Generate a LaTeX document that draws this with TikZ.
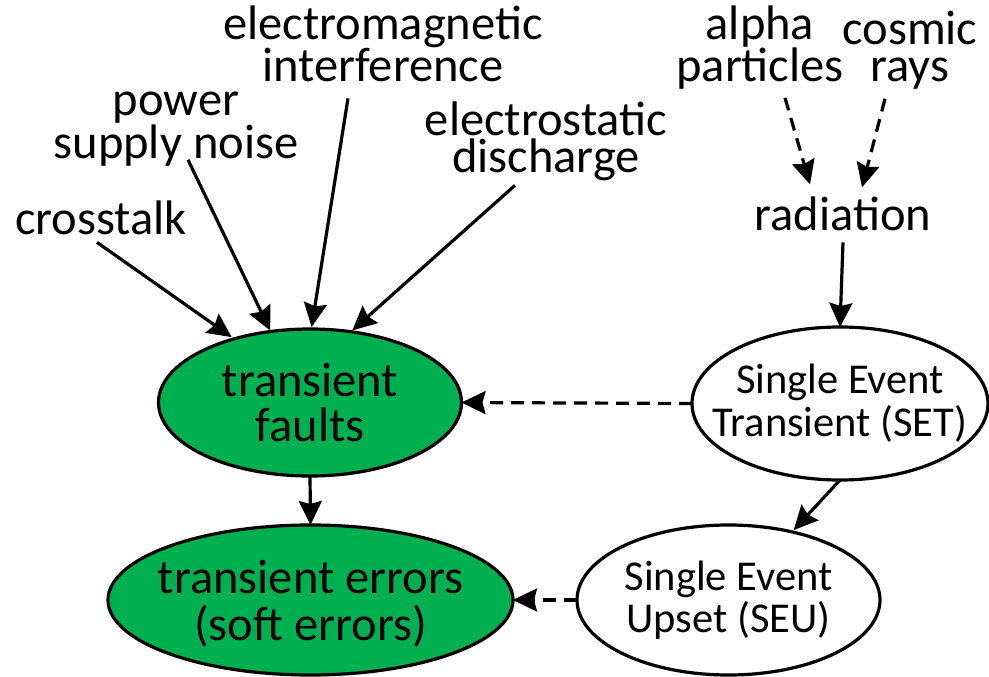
\documentclass[tikz,border=0pt]{standalone}
\usepackage{fontspec}
\setmainfont{Carlito}
\usetikzlibrary{arrows.meta,shapes.geometric}
\definecolor{pgreen}{HTML}{00B050}
\newcommand{\ctext}[2][37pt]{\makebox[0pt]{\begin{tabular}{@{}c@{}}\rule{0pt}{#1}#2\end{tabular}}}
\begin{document}
\begin{tikzpicture}[x=1pt,y=-1pt,
  lbl/.style={inner sep=0pt,outer sep=0pt,align=center,anchor=base,font=\fontsize{48.5}{37}\selectfont},
  ell/.style={ellipse,draw=black,line width=3.2pt,inner sep=0pt,outer sep=0pt},
  big/.style={font=\fontsize{48.5}{40}\selectfont},
  small/.style={font=\fontsize{42.5}{37}\selectfont},
  arr/.style={line width=3.2pt,-{Stealth[length=24pt,width=23pt,inset=3pt]}},
  darr/.style={arr,dash pattern=on 13pt off 8pt}]
\useasboundingbox (0,0) rectangle (989,677);
% outer labels (anchored at last-line baseline)
\node[lbl] (emi) at (383,82) {electromagnetic\\interference};
\node[lbl] (psn) at (176,158) {power\\supply noise};
\node[lbl] (xtalk) at (101,234) {crosstalk};
\node[lbl] (esd) at (546,172) {electrostatic\\discharge};
\node[lbl] (alpha) at (760,82) {alpha\\particles};
\node[lbl] (cosmic) at (910,82) {cosmic\\rays};
\node[lbl] (rad) at (843,230) {radiation};
% ellipses
\node[ell,big,fill=pgreen,minimum width=303pt,minimum height=147pt] (tf) at (310,402.5) {\ctext[45pt]{transient\\faults}};
\node[ell,big,fill=pgreen,minimum width=405pt,minimum height=150pt] (te) at (310.5,600) {\ctext[46pt]{transient errors\\(soft errors)}};
\node[ell,small,fill=white,minimum width=296pt,minimum height=153pt] (set) at (840,403.5) {\ctext[34pt]{Single Event\\Transient (SET)}};
\node[ell,small,fill=white,minimum width=303pt,minimum height=150pt] (seu) at (728.5,600) {\ctext[34pt]{Single Event\\Upset (SEU)}};
% connectors
\draw[arr,shorten >=3pt] ([xshift=-4pt,yshift=-8pt]xtalk.south) -- (tf.140);
\draw[arr,shorten >=1pt] ([xshift=12pt,yshift=6pt]psn.south) -- (tf.119);
\draw[arr,shorten >=2pt] ([xshift=-35pt,yshift=-16pt]emi.south) -- (tf.89);
\draw[arr,shorten >=2pt] ([xshift=-31pt,yshift=-5pt]esd.south) -- (tf.60);
\draw[darr] ([xshift=25pt,yshift=-8pt]alpha.south) -- ([xshift=-33pt,yshift=12pt]rad.north);
\draw[darr] ([xshift=-25pt,yshift=-9pt]cosmic.south) -- ([xshift=19pt,yshift=9pt]rad.north);
\draw[arr] ([yshift=-12pt]rad.south) -- (set.north);
\draw[darr] (set.west) -- (tf.east);
\draw[arr,shorten >=2.5pt] (set.south) -- (seu.47);
\draw[darr] (seu.west) -- (te.east);
\draw[arr] (tf.south) -- (te.north);
\end{tikzpicture}
\end{document}
